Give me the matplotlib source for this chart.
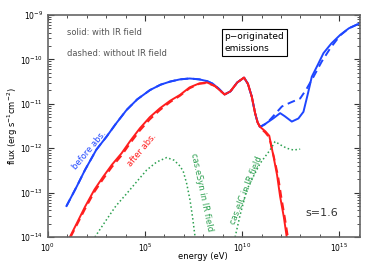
import numpy as np
import matplotlib
matplotlib.use("Agg")
import matplotlib.pyplot as plt
from matplotlib.ticker import LogLocator, FixedLocator, NullFormatter

# values, stored as log10(energy/eV) and log10(flux)
blue_solid_logE = [0.96, 1.5, 1.91, 2.5, 3.02, 3.5, 4.05, 4.6, 5.26, 5.8, 6.29, 6.8, 7.3, 7.8, 8.2, 8.5, 8.8,
                   9.1, 9.4, 9.75, 10.1, 10.3, 10.5, 10.67, 10.8, 10.93, 11.2, 11.6, 11.96, 12.2, 12.56, 12.9,
                   13.16, 13.4, 13.59, 13.9, 14.19, 14.6, 15.05, 15.5, 16.0, 16.1]
blue_solid_logF = [-13.30, -12.85, -12.49, -12.03, -11.74, -11.45, -11.14, -10.90, -10.69, -10.57, -10.50,
                   -10.45, -10.43, -10.45, -10.49, -10.55, -10.66, -10.79, -10.72, -10.52, -10.41, -10.55,
                   -10.84, -11.21, -11.42, -11.52, -11.45, -11.33, -11.21, -11.28, -11.40, -11.33, -11.18,
                   -10.75, -10.39, -10.12, -9.86, -9.64, -9.45, -9.30, -9.20, -9.18]

blue_dashed_logE = [0.96, 1.5, 1.91, 2.5, 3.02, 3.5, 4.05, 4.6, 5.26, 5.8, 6.29, 6.8, 7.3, 7.8, 8.2, 8.5, 8.8,
                    9.1, 9.4, 9.75, 10.1, 10.3, 10.5, 10.67, 10.8, 10.93, 11.27, 11.6, 12.05, 12.5, 12.99,
                    13.3, 13.68, 14.1, 14.54, 15.05, 15.5, 16.0, 16.1]
blue_dashed_logF = [-13.30, -12.85, -12.49, -12.03, -11.74, -11.45, -11.14, -10.90, -10.69, -10.57, -10.50,
                    -10.45, -10.43, -10.45, -10.49, -10.55, -10.66, -10.79, -10.72, -10.52, -10.41, -10.55,
                    -10.84, -11.21, -11.42, -11.52, -11.44, -11.28, -11.06, -10.97, -10.88, -10.68, -10.39,
                    -10.05, -9.75, -9.46, -9.30, -9.20, -9.18]

red_solid_logE = [1.13, 1.5, 1.91, 2.4, 2.85, 3.3, 3.8, 4.25, 4.74, 5.25, 5.77, 6.3, 6.8, 7.3, 7.8, 8.2, 8.6,
                  9.1, 9.4, 9.75, 10.1, 10.3, 10.5, 10.67, 10.8, 10.93, 11.2, 11.4, 11.62, 11.8, 11.96, 12.15, 12.3]
red_solid_logF = [-14.0, -13.68, -13.32, -12.93, -12.64, -12.37, -12.11, -11.83, -11.55, -11.30, -11.10,
                  -10.93, -10.80, -10.63, -10.54, -10.52, -10.60, -10.79, -10.72, -10.52, -10.41, -10.55,
                  -10.84, -11.21, -11.42, -11.52, -11.62, -11.72, -12.19, -12.6, -13.09, -13.55, -14.0]

red_dashed_logE = [1.17, 1.5, 1.91, 2.4, 2.85, 3.3, 3.8, 4.25, 4.74, 5.25, 5.77, 6.3, 6.8, 7.3, 7.8, 8.2, 8.6,
                   9.1, 9.4, 9.75, 10.1, 10.3, 10.5, 10.67, 10.8, 10.93, 11.2, 11.4, 11.65, 11.85, 12.02, 12.2, 12.36]
red_dashed_logF = [-14.0, -13.72, -13.37, -12.98, -12.69, -12.42, -12.16, -11.88, -11.60, -11.35, -11.14,
                   -10.96, -10.82, -10.65, -10.55, -10.53, -10.60, -10.79, -10.72, -10.52, -10.41, -10.55,
                   -10.84, -11.21, -11.42, -11.54, -11.65, -11.76, -12.22, -12.62, -13.1, -13.56, -14.0]

esyn_logE = [2.42, 3.0, 3.5, 4.06, 4.6, 5.09, 5.6, 6.12, 6.5, 6.8, 6.97, 7.15, 7.32, 7.45, 7.58]
esyn_logF = [-14.0, -13.62, -13.30, -13.02, -12.74, -12.49, -12.31, -12.21, -12.27, -12.40, -12.52,
             -12.80, -13.17, -13.55, -14.0]

eic_logE = [9.64, 9.9, 10.24, 10.6, 10.93, 11.2, 11.44, 11.7, 12.0, 12.3, 12.64, 12.99]
eic_logF = [-14.0, -13.5, -12.94, -12.62, -12.34, -12.18, -12.04, -11.85, -11.93, -12.0, -12.04, -12.02]

blue = '#1e46ff'
red = '#ff1e1e'
green = '#2ca050'

fig = plt.figure(figsize=(3.74, 2.67), dpi=100)
ax = fig.add_axes([0.128, 0.112, 0.835, 0.832])

def p(lx, ly):
    return 10 ** np.array(lx), 10 ** np.array(ly)

ax.plot(*p(blue_dashed_logE, blue_dashed_logF), color=blue, lw=1.4, ls=(0, (4, 2.5)))
ax.plot(*p(blue_solid_logE, blue_solid_logF), color=blue, lw=1.4)
ax.plot(*p(red_dashed_logE, red_dashed_logF), color=red, lw=1.4, ls=(0, (4, 2.5)))
ax.plot(*p(red_solid_logE, red_solid_logF), color=red, lw=1.4)
ax.plot(*p(esyn_logE, esyn_logF), color=green, lw=1.1, ls=(0, (1, 1.6)))
ax.plot(*p(eic_logE, eic_logF), color=green, lw=1.1, ls=(0, (1, 1.6)))

ax.set_xscale('log')
ax.set_yscale('log')
ax.set_xlim(1, 10 ** 16.08)
ax.set_ylim(1e-14, 1e-9)

ax.xaxis.set_major_locator(FixedLocator([1e0, 1e5, 1e10, 1e15]))
ax.xaxis.set_minor_locator(FixedLocator([10.0 ** k for k in range(0, 17)]))
ax.xaxis.set_minor_formatter(NullFormatter())
ax.yaxis.set_major_locator(LogLocator(base=10, numticks=10))
ax.yaxis.set_minor_locator(LogLocator(base=10, subs=np.arange(2, 10), numticks=20))
ax.yaxis.set_minor_formatter(NullFormatter())
ax.tick_params(which='both', direction='in', top=True, right=True, labelsize=5.5, color='#333333')
ax.tick_params(which='major', length=4, width=0.8)
ax.tick_params(which='minor', length=2, width=0.6)
for s in ax.spines.values():
    s.set_color('#666666')
    s.set_linewidth(1.2)

# axis titles placed by hand so they stay inside the small canvas
fig.text(0.543, 0.041, 'energy (eV)', fontsize=6, ha='center', va='center')
fig.text(0.035, 0.528, r'flux (erg s$^{-1}$cm$^{-2}$)', fontsize=6, rotation=90, ha='center', va='center')

ax.text(0.06, 0.92, 'solid: with IR field', transform=ax.transAxes, fontsize=6, color='#555555', va='center')
ax.text(0.06, 0.825, 'dashed: without IR field', transform=ax.transAxes, fontsize=6, color='#555555', va='center')
ax.text(0.565, 0.875, 'p\u2212originated\nemissions', transform=ax.transAxes, fontsize=6.5, va='center',
        linespacing=1.5, bbox=dict(boxstyle='square,pad=0.3', fc='white', ec='black', lw=0.8))
ax.text(0.93, 0.11, 's=1.6', transform=ax.transAxes, fontsize=8, ha='right', va='center', color='#333333')

ax.text(10 ** 2.16, 10 ** -12.04, 'before abs.', color=blue, fontsize=6, rotation=50, ha='center', va='center')
ax.text(10 ** 4.85, 10 ** -12.05, 'after abs.', color=red, fontsize=6, rotation=50, ha='center', va='center')
ax.text(10 ** 7.9, 10 ** -13.0, 'cas.eSyn in IR field', color=green, fontsize=6, rotation=-78,
        ha='center', va='center')
ax.text(10 ** 10.2, 10 ** -12.95, 'cas.eIC in IR field', color=green, fontsize=6, rotation=68,
        ha='center', va='center')

fig.savefig('out.png', dpi=100)
